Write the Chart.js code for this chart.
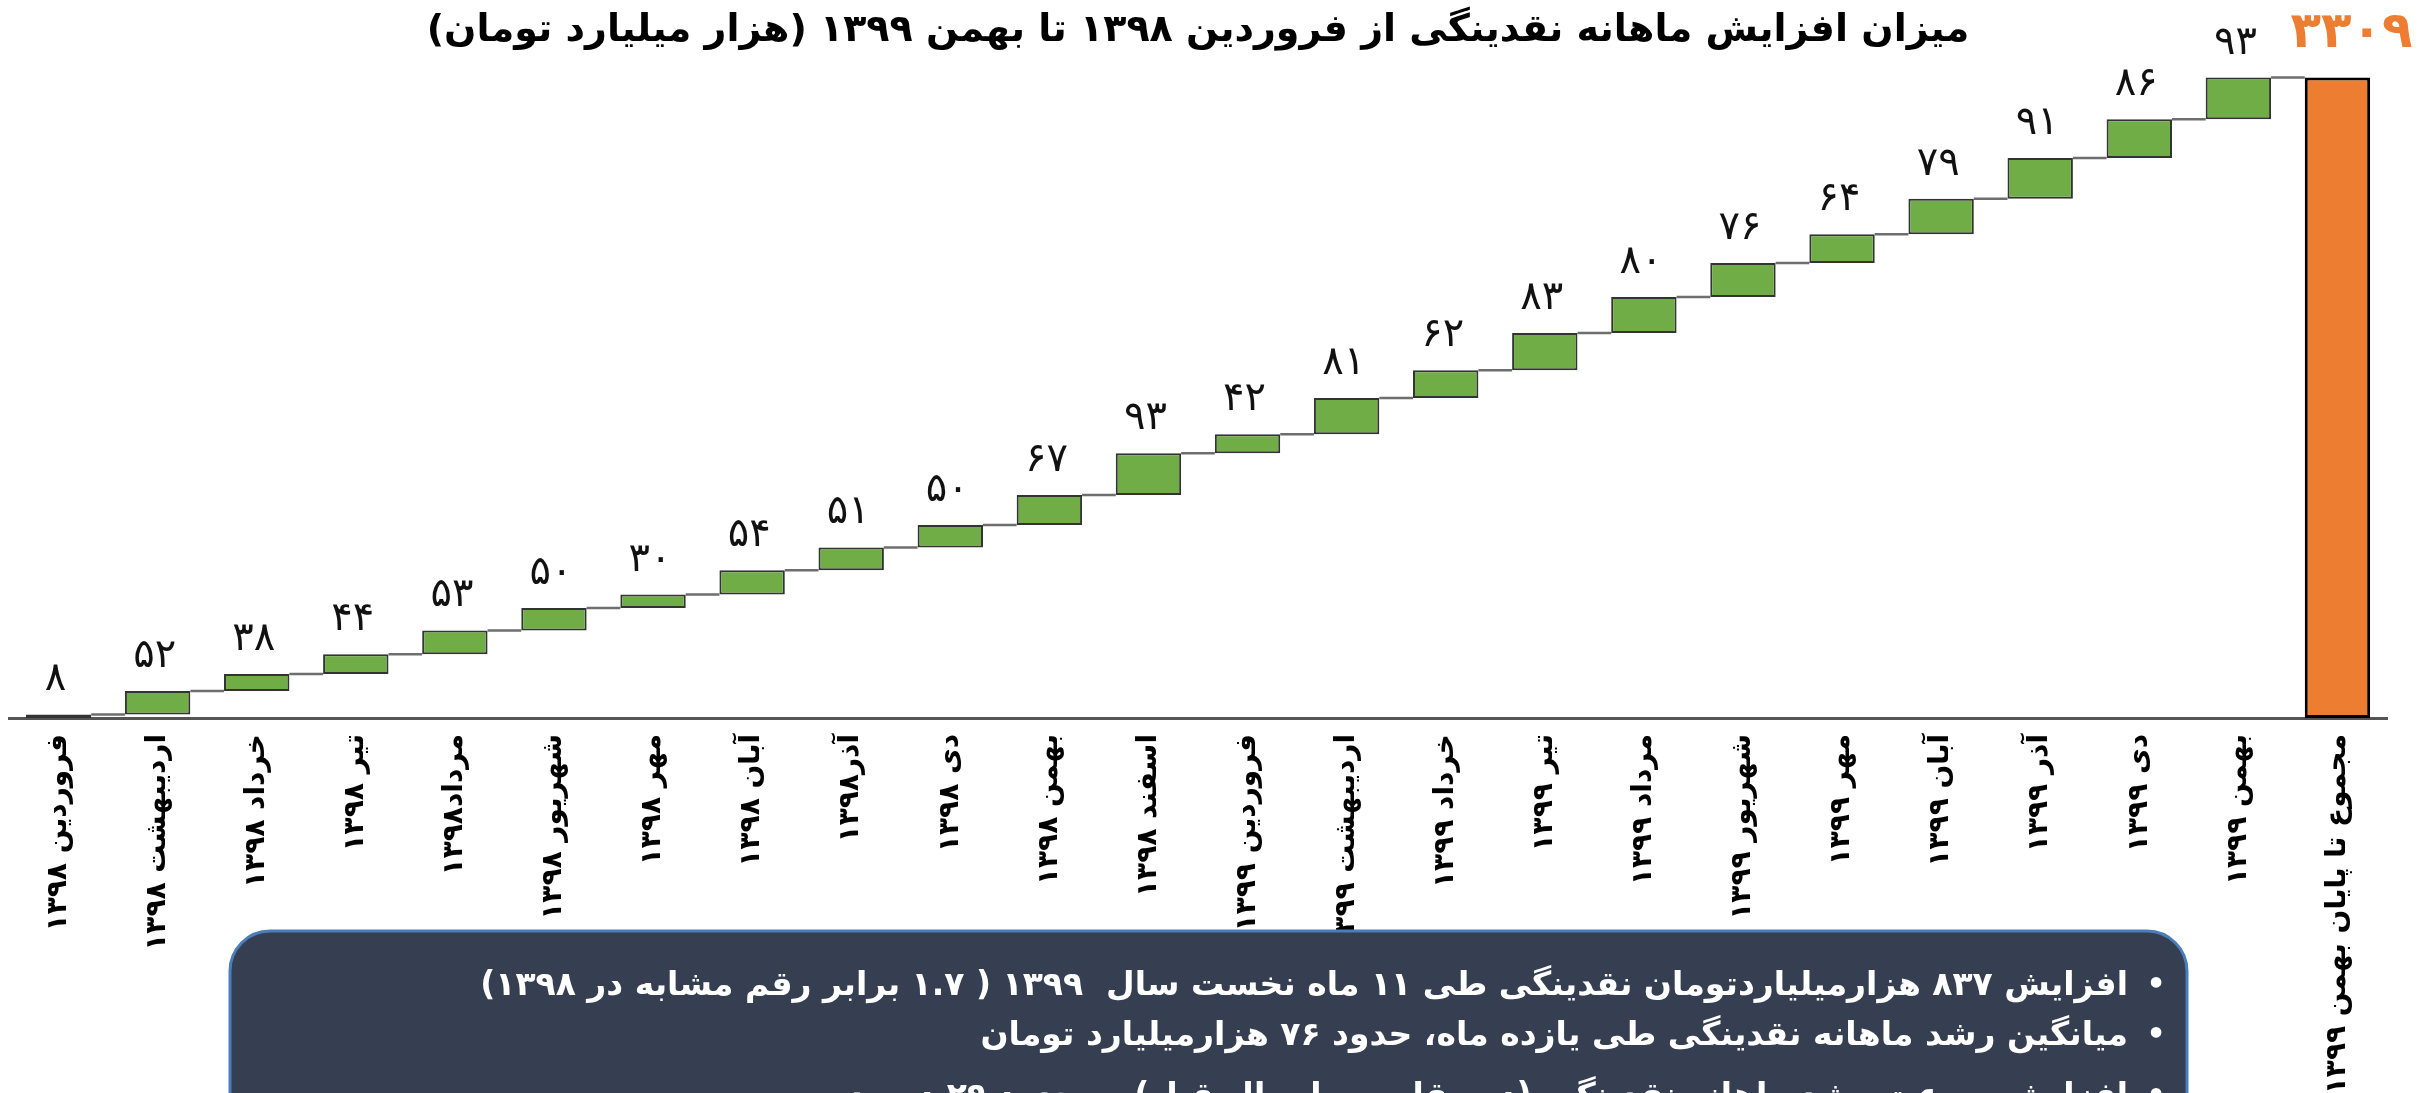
<!DOCTYPE html>
<html lang="fa">
<head>
<meta charset="utf-8">
<title>نقدینگی</title>
<script src="https://cdn.jsdelivr.net/npm/chart.js@4.4.0/dist/chart.umd.min.js"></script>
<style>
    html, body { margin: 0; padding: 0; background: #ffffff; }
    #wrap { position: relative; width: 2432px; height: 1093px; }
</style>
</head>
<body>
<div id="wrap"><canvas id="naghdinegiChart"></canvas></div>
<script>
var mahha = [
    'فروردین ۱۳۹۸', 'اردیبهشت ۱۳۹۸', 'خرداد ۱۳۹۸', 'تیر ۱۳۹۸', 'مرداد۱۳۹۸', 'شهریور ۱۳۹۸',
    'مهر ۱۳۹۸', 'آبان ۱۳۹۸', 'آذر۱۳۹۸', 'دی ۱۳۹۸', 'بهمن ۱۳۹۸', 'اسفند ۱۳۹۸',
    'فروردین ۱۳۹۹', 'اردیبهشت ۱۳۹۹', 'خرداد ۱۳۹۹', 'تیر ۱۳۹۹', 'مرداد ۱۳۹۹', 'شهریور ۱۳۹۹',
    'مهر ۱۳۹۹', 'آبان ۱۳۹۹', 'آذر ۱۳۹۹', 'دی ۱۳۹۹', 'بهمن ۱۳۹۹'
];
// afzayesh mahane (hezar miliard toman)
var afzayesh = [8, 52, 38, 44, 53, 50, 30, 54, 51, 50, 67, 93, 42, 81, 62, 83, 80, 76, 64, 79, 91, 86, 93];

var majmooLabel = 'مجموع تا پایان بهمن ۱۳۹۹';
var majmoo = 3309;

var onvan = 'میزان افزایش ماهانه نقدینگی از فروردین ۱۳۹۸ تا بهمن ۱۳۹۹ (هزار میلیارد تومان)';
var yaddasht = [
    'افزایش ۸۳۷ هزارمیلیاردتومان نقدینگی طی ۱۱ ماه نخست سال  ۱۳۹۹ ( ۱.۷ برابر رقم مشابه در ۱۳۹۸)',
    'میانگین رشد ماهانه نقدینگی طی یازده ماه، حدود ۷۶ هزارمیلیارد تومان',
    'افزایش سرعت رشد ماهانه نقدینگی (در مقایسه با سال قبل) به حدود ۲۹ درصد'
];

function toFa(n) {
    return String(n).replace(/[0-9]/g, function (d) { return '۰۱۲۳۴۵۶۷۸۹'[d]; });
}

// paye = naghdinegi payan 1397
var jam = 0;
for (let i = 0; i < afzayesh.length; i++) jam += afzayesh[i];
var paye = majmoo - jam;

var barha = [];
var tajamoi = paye;
for (let i = 0; i < afzayesh.length; i++) {
    barha.push([tajamoi, tajamoi + afzayesh[i]]);
    tajamoi += afzayesh[i];
}
barha.push([paye, majmoo]);

var barchasb = mahha.concat([majmooLabel]);
var matnha = afzayesh.map(toFa).concat([toFa(majmoo)]);

var sabz = '#70ad47';
var narenji = '#ed7d31';
var n = barchasb.length;

var absharPlugin = {
    id: 'abshar',
    beforeDatasetsDraw: function (chart) {
        var ctx = chart.ctx;
        var meta = chart.getDatasetMeta(0);
        ctx.save();
        ctx.strokeStyle = '#6e6e6e';
        ctx.lineWidth = 2.5;
        for (let i = 0; i < meta.data.length - 1; i++) {
            var a = meta.data[i], b = meta.data[i + 1];
            ctx.beginPath();
            ctx.moveTo(a.x + a.width / 2, a.y);
            ctx.lineTo(b.x - b.width / 2, a.y);
            ctx.stroke();
        }
        ctx.restore();
    },
    afterDatasetsDraw: function (chart) {
        var ctx = chart.ctx;
        var meta = chart.getDatasetMeta(0);
        ctx.save();
        ctx.textAlign = 'center';
        ctx.textBaseline = 'alphabetic';
        for (let i = 0; i < meta.data.length; i++) {
            var bar = meta.data[i];
            if (i < meta.data.length - 1) {
                ctx.font = '40px "DejaVu Sans"';
                ctx.fillStyle = '#111111';
                ctx.fillText(matnha[i], bar.x - 3, bar.y - 24);
            } else {
                ctx.font = 'bold 50px "DejaVu Sans"';
                ctx.fillStyle = narenji;
                ctx.fillText(matnha[i], bar.x + 14, bar.y - 31);
            }
        }
        ctx.restore();
    },
    afterDraw: function (chart) {
        // kadr yaddasht paein
        var ctx = chart.ctx;
        var x = 230, y = 931, w = 1957, h = 240, r = 40;
        ctx.save();
        ctx.beginPath();
        ctx.moveTo(x + r, y);
        ctx.lineTo(x + w - r, y);
        ctx.arcTo(x + w, y, x + w, y + r, r);
        ctx.lineTo(x + w, y + h);
        ctx.lineTo(x, y + h);
        ctx.lineTo(x, y + r);
        ctx.arcTo(x, y, x + r, y, r);
        ctx.closePath();
        ctx.fillStyle = '#353f51';
        ctx.fill();
        ctx.lineWidth = 3;
        ctx.strokeStyle = '#4a7ebb';
        ctx.stroke();

        ctx.fillStyle = '#ffffff';
        ctx.textBaseline = 'middle';
        var satrY = [986, 1036, 1097];
        for (let i = 0; i < yaddasht.length; i++) {
            ctx.direction = 'ltr';
            ctx.textAlign = 'center';
            ctx.font = 'bold 30px "DejaVu Sans"';
            ctx.fillText('•', 2156, satrY[i]);
            ctx.direction = 'rtl';
            ctx.textAlign = 'right';
            ctx.font = 'bold 33px "DejaVu Sans"';
            ctx.fillText(yaddasht[i], 2128, satrY[i]);
        }
        ctx.restore();
    }
};

var naghdinegiCtx = document.getElementById('naghdinegiChart').getContext('2d');
var naghdinegiChart = new Chart(naghdinegiCtx, {
    type: 'bar',
    data: {
        labels: barchasb,
        datasets: [{
            data: barha,
            backgroundColor: barchasb.map(function (l, i) { return i == n - 1 ? narenji : sabz; }),
            borderColor: barchasb.map(function (l, i) { return i == n - 1 ? '#000000' : '#333333'; }),
            borderWidth: barchasb.map(function (l, i) { return i == n - 1 ? 3 : 2; }),
            borderSkipped: false,
            categoryPercentage: 0.66,
            barPercentage: 1
        }]
    },
    options: {
        responsive: true,
        maintainAspectRatio: false,
        animation: false,
        layout: {
            padding: {
                left: 9,
                right: 45,
                top: 0,
                bottom: 0
            }
        },
        scales: {
            x: {
                grid: { display: false },
                border: { color: '#555555', width: 3 },
                ticks: {
                    autoSkip: false,
                    minRotation: 90,
                    maxRotation: 90,
                    padding: 8,
                    color: '#000000',
                    font: {
                        family: 'DejaVu Sans',
                        size: 28,
                        weight: 'bold'
                    }
                },
                afterFit: function (scale) {
                    scale.height = 375;
                }
            },
            y: {
                display: false,
                min: paye,
                max: majmoo + 40
            }
        },
        plugins: {
            legend: { display: false },
            tooltip: { enabled: false },
            title: {
                display: true,
                text: onvan,
                color: '#000000',
                padding: { top: 8, bottom: 6 },
                font: {
                    family: 'DejaVu Sans',
                    size: 38,
                    weight: 'bold'
                }
            }
        }
    },
    plugins: [absharPlugin]
});
</script>
</body>
</html>
